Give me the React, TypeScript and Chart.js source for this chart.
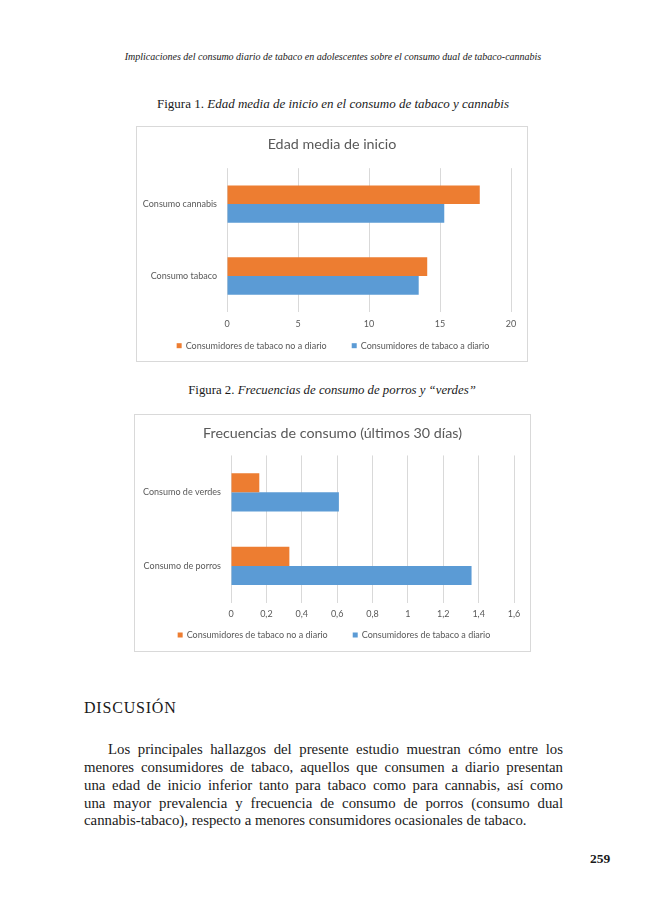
import React, { useEffect, useRef } from "react";
import { Chart, registerables } from "chart.js";

Chart.register(...registerables);

// ---------- data ----------
const seriesLabels = ["Consumidores de tabaco no a diario", "Consumidores de tabaco a diario"];
const seriesColors = ["#ED7D31", "#5B9BD5"];

const fig1Title = "Edad media de inicio";
const fig1Categories = ["Consumo cannabis", "Consumo tabaco"];
const fig1NoDiario = [17.8, 14.1];
const fig1Diario = [15.3, 13.5];
const fig1Ticks = [0, 5, 10, 15, 20];

const fig2Title = "Frecuencias de consumo (últimos 30 días)";
const fig2Categories = ["Consumo de verdes", "Consumo de porros"];
const fig2NoDiario = [0.16, 0.33];
const fig2Diario = [0.61, 1.36];
const fig2Ticks = [0, 0.2, 0.4, 0.6, 0.8, 1, 1.2, 1.4, 1.6];

const headerText =
  "Implicaciones del consumo diario de tabaco en adolescentes sobre el consumo dual de tabaco-cannabis";
const caption1 = ["Figura 1.", " Edad media de inicio en el consumo de tabaco y cannabis"];
const caption2 = ["Figura 2.", " Frecuencias de consumo de porros y “verdes”"];
const headingText = "DISCUSIÓN";
const paragraphLines = [
  "Los principales hallazgos del presente estudio muestran cómo entre los",
  "menores consumidores de tabaco, aquellos que consumen a diario presentan",
  "una edad de inicio inferior tanto para tabaco como para cannabis, así como",
  "una mayor prevalencia y frecuencia de consumo de porros (consumo dual",
  "cannabis-tabaco), respecto a menores consumidores ocasionales de tabaco.",
];
const pageNumber = "259";

// ---------- chart ----------
const FONT = "Lato, 'Open Sans', sans-serif";
const GREY = "#595959";

type ChartSpec = {
  title: string;
  categories: string[];
  noDiario: number[];
  diario: number[];
  ticks: number[];
  width: number;
  height: number;
  yWidth: number;
  rightPad: number;
  titlePadTop: number;
  titlePadBottom: number;
  bottomPad: number;
  tickPad: number;
  legendCx: number;
  legendCy: number;
};

function fmt(v: number) {
  const s = parseFloat(Number(v).toFixed(2)).toString();
  return s.replace(".", ",");
}

const customLegend = {
  id: "customLegend",
  afterDraw(chart: any, _args: any, opts: any) {
    const ctx = chart.ctx;
    const ds = chart.data.datasets;
    ctx.save();
    ctx.font = `9px ${FONT}`;
    const box = 5;
    const gapText = 4;
    const gapItem = 25;
    const widths = ds.map((d: any) => box + gapText + ctx.measureText(d.label).width);
    const total = widths.reduce((a: number, b: number) => a + b, 0) + gapItem * (ds.length - 1);
    let x = opts.cx - total / 2;
    const y = opts.cy;
    ds.forEach((d: any, i: number) => {
      ctx.fillStyle = d.backgroundColor;
      ctx.fillRect(x, y - box / 2, box, box);
      ctx.fillStyle = GREY;
      ctx.textBaseline = "middle";
      ctx.textAlign = "left";
      ctx.fillText(d.label, x + box + gapText, y);
      x += widths[i] + gapItem;
    });
    ctx.restore();
  },
};

function BarChart({ spec }: { spec: ChartSpec }) {
  const ref = useRef<HTMLCanvasElement | null>(null);
  useEffect(() => {
    if (!ref.current) return;
    const t = spec.ticks;
    const chart = new Chart(ref.current, {
      type: "bar",
      data: {
        labels: spec.categories,
        datasets: [
          {
            label: seriesLabels[0],
            data: spec.noDiario,
            backgroundColor: seriesColors[0],
            borderWidth: 0,
            categoryPercentage: 0.52,
            barPercentage: 1,
          },
          {
            label: seriesLabels[1],
            data: spec.diario,
            backgroundColor: seriesColors[1],
            borderWidth: 0,
            categoryPercentage: 0.52,
            barPercentage: 1,
          },
        ],
      },
      plugins: [customLegend],
      options: {
        indexAxis: "y",
        responsive: false,
        animation: false,
        layout: { padding: { left: 0, right: 0, top: 0, bottom: spec.bottomPad } },
        plugins: {
          title: {
            display: true,
            text: spec.title,
            color: GREY,
            font: { family: FONT, size: 14.3, weight: "normal", lineHeight: 1.2 },
            padding: { top: spec.titlePadTop, bottom: spec.titlePadBottom },
          },
          legend: { display: false },
          tooltip: { enabled: false },
          customLegend: { cx: spec.legendCx, cy: spec.legendCy },
        } as any,
        scales: {
          x: {
            type: "linear",
            min: t[0],
            max: t[t.length - 1],
            afterFit: (s: any) => {
              s.height = 18;
            },
            ticks: {
              stepSize: t[1] - t[0],
              color: GREY,
              font: { family: FONT, size: 9 },
              padding: spec.tickPad,
              callback: (v: any) => fmt(v),
            },
            grid: { color: "#d9d9d9", lineWidth: 1, drawTicks: false },
            border: { display: false },
          },
          y: {
            position: "left",
            afterFit: (s: any) => {
              s.width = spec.yWidth;
            },
            ticks: {
              color: GREY,
              font: { family: FONT, size: 9 },
              padding: 10,
            },
            grid: { display: false, drawTicks: false },
            border: { display: false },
          },
          yRight: {
            type: "category",
            position: "right",
            afterFit: (s: any) => {
              s.width = spec.rightPad;
            },
            ticks: { display: false },
            grid: { display: false, drawTicks: false },
            border: { display: false },
          },
        } as any,
      },
    });
    return () => chart.destroy();
  }, [spec]);
  return (
    <canvas
      ref={ref}
      width={spec.width}
      height={spec.height}
      style={{ width: spec.width, height: spec.height, display: "block" }}
    />
  );
}

const spec1: ChartSpec = {
  title: fig1Title,
  categories: fig1Categories,
  noDiario: fig1NoDiario,
  diario: fig1Diario,
  ticks: fig1Ticks,
  width: 390,
  height: 234,
  yWidth: 90,
  rightPad: 16,
  titlePadTop: 8.4,
  titlePadBottom: 15.6,
  bottomPad: 31,
  tickPad: 6.6,
  legendCx: 196,
  legendCy: 218.7,
};

const spec2: ChartSpec = {
  title: fig2Title,
  categories: fig2Categories,
  noDiario: fig2NoDiario,
  diario: fig2Diario,
  ticks: fig2Ticks,
  width: 395,
  height: 236,
  yWidth: 96,
  rightPad: 16,
  titlePadTop: 10.1,
  titlePadBottom: 13.2,
  bottomPad: 30.3,
  tickPad: 5.6,
  legendCx: 199,
  legendCy: 220,
};

const SERIF = "'Liberation Serif', 'Times New Roman', serif";

function Line({
  cy,
  lh,
  style,
  children,
}: {
  cy: number;
  lh: number;
  style: React.CSSProperties;
  children: React.ReactNode;
}) {
  return (
    <div
      style={{
        position: "absolute",
        top: cy - lh / 2,
        lineHeight: lh + "px",
        height: lh,
        whiteSpace: "nowrap",
        fontFamily: SERIF,
        color: "#1a1a1a",
        ...style,
      }}
    >
      {children}
    </div>
  );
}

export default function App() {
  const paraCenters = [749, 767, 785, 803, 820];
  return (
    <div
      style={{
        position: "absolute",
        left: 0,
        top: 0,
        width: 650,
        height: 918,
        background: "#fff",
        overflow: "hidden",
      }}
    >
      <Line cy={57} lh={14} style={{ left: 33, width: 600, textAlign: "center", fontSize: 10, fontStyle: "italic" }}>
        {headerText}
      </Line>
      <Line cy={104} lh={16} style={{ left: 33, width: 600, textAlign: "center", fontSize: 13 }}>
        {caption1[0]}
        <i>{caption1[1]}</i>
      </Line>
      <div
        style={{
          position: "absolute",
          left: 136,
          top: 126,
          width: 390,
          height: 234,
          border: "1px solid #d9d9d9",
        }}
      >
        <BarChart spec={spec1} />
      </div>
      <Line cy={390} lh={16} style={{ left: 32, width: 600, textAlign: "center", fontSize: 12.8 }}>
        {caption2[0]}
        <i>{caption2[1]}</i>
      </Line>
      <div
        style={{
          position: "absolute",
          left: 134,
          top: 414,
          width: 395,
          height: 236,
          border: "1px solid #d9d9d9",
        }}
      >
        <BarChart spec={spec2} />
      </div>
      <Line cy={708} lh={18} style={{ left: 84, fontSize: 16, letterSpacing: 0.8 }}>
        {headingText}
      </Line>
      {paragraphLines.map((ln, i) => {
        const last = i === paragraphLines.length - 1;
        const left = i === 0 ? 108 : 84;
        return (
          <Line
            key={i}
            cy={paraCenters[i]}
            lh={18}
            style={{
              left,
              width: last ? undefined : 563 - left,
              fontSize: 14.8,
              textAlign: last ? "left" : "justify",
              textAlignLast: last ? "left" : "justify",
              whiteSpace: last ? "nowrap" : "normal",
            }}
          >
            {ln}
          </Line>
        );
      })}
      <Line cy={858.5} lh={16} style={{ left: 590, fontSize: 13.5, fontWeight: "bold" }}>
        {pageNumber}
      </Line>
    </div>
  );
}
